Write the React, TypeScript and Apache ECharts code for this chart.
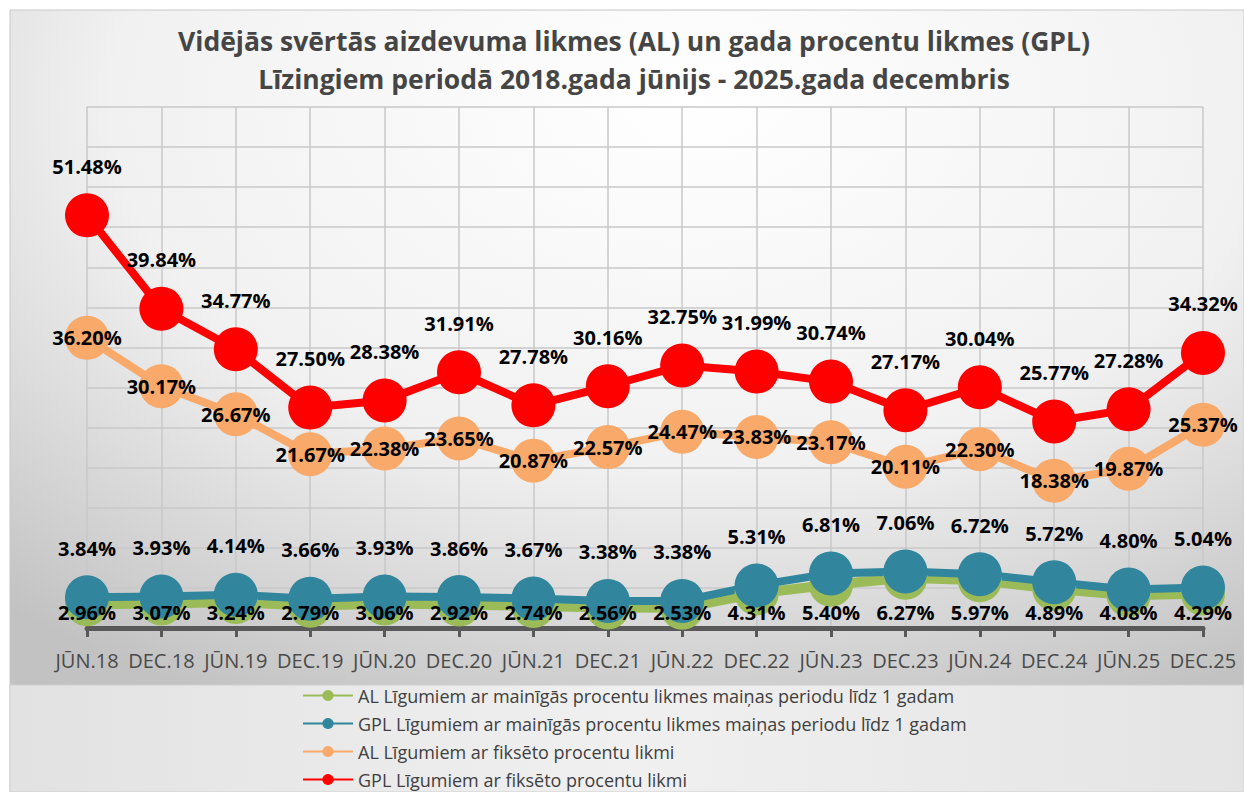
import React, { useEffect, useRef } from "react";
import * as echarts from "echarts";

const categories = [
  "JŪN.18", "DEC.18", "JŪN.19", "DEC.19", "JŪN.20", "DEC.20", "JŪN.21", "DEC.21",
  "JŪN.22", "DEC.22", "JŪN.23", "DEC.23", "JŪN.24", "DEC.24", "JŪN.25", "DEC.25",
];

const alVariable = [2.96, 3.07, 3.24, 2.79, 3.06, 2.92, 2.74, 2.56, 2.53, 4.31, 5.4, 6.27, 5.97, 4.89, 4.08, 4.29];
const gplVariable = [3.84, 3.93, 4.14, 3.66, 3.93, 3.86, 3.67, 3.38, 3.38, 5.31, 6.81, 7.06, 6.72, 5.72, 4.8, 5.04];
const alFixed = [36.2, 30.17, 26.67, 21.67, 22.38, 23.65, 20.87, 22.57, 24.47, 23.83, 23.17, 20.11, 22.3, 18.38, 19.87, 25.37];
const gplFixed = [51.48, 39.84, 34.77, 27.5, 28.38, 31.91, 27.78, 30.16, 32.75, 31.99, 30.74, 27.17, 30.04, 25.77, 27.28, 34.32];

const seriesNames = [
  "AL Līgumiem ar mainīgās procentu likmes maiņas periodu līdz 1 gadam",
  "GPL Līgumiem ar mainīgās procentu likmes maiņas periodu līdz 1 gadam",
  "AL Līgumiem ar fiksēto procentu likmi",
  "GPL Līgumiem ar fiksēto procentu likmi",
];

const titleLines = [
  "Vidējās svērtās aizdevuma likmes (AL) un gada procentu likmes (GPL)",
  "Līzingiem periodā 2018.gada jūnijs - 2025.gada decembris",
];

const Y_MAX = 65;
const Y_INTERVAL = 5;

const W = 1244;
const H = 792;
const GRID_TOP = 107;
const GRID_BOTTOM_Y = 628;
const FONT = "'Open Sans', 'Noto Sans', sans-serif";

export default function App() {
  const ref = useRef<HTMLDivElement>(null);

  useEffect(() => {
    if (!ref.current) return;
    const chart = echarts.init(ref.current, null, { renderer: "svg" });
    const pxPerUnit = (GRID_BOTTOM_Y - GRID_TOP) / Y_MAX;

    const fmt = (p: any) => `${Number(p.value).toFixed(2)}%`;
    const labelBase = {
      show: true,
      formatter: fmt,
      fontFamily: FONT,
      fontWeight: "bold" as const,
      fontSize: 20,
      color: "#000000",
    };

    const mk = (name: string, data: any[], color: string, width: number, label: any) => ({
      name,
      type: "line",
      data,
      symbol: "circle",
      symbolSize: 44,
      lineStyle: { color, width },
      itemStyle: { color },
      label: { ...labelBase, ...label },
      emphasis: { disabled: true },
    });

    const option: any = {
      animation: false,
      backgroundColor: "#ffffff",
      textStyle: { fontFamily: FONT },
      graphic: {
        elements: [
          {
            type: "rect",
            z: -20,
            shape: { x: 10, y: 10, width: W - 10, height: H - 10 },
            style: {
              fill: {
                type: "radial",
                x: 0.55,
                y: 0.12,
                r: 0.85,
                colorStops: [
                  { offset: 0, color: "#ffffff" },
                  { offset: 0.55, color: "#f1f1f1" },
                  { offset: 1, color: "#c2c2c2" },
                ],
              },
              stroke: "#c8c8c8",
              lineWidth: 1,
            },
          },
          {
            type: "rect",
            z: -19,
            shape: { x: 10, y: 685, width: W - 10, height: H - 685 },
            style: {
              fill: {
                type: "linear",
                x: 0,
                y: 0,
                x2: 1,
                y2: 0,
                colorStops: [
                  { offset: 0, color: "#e2e2e2" },
                  { offset: 0.5, color: "#f0f0f0" },
                  { offset: 1, color: "#e4e4e4" },
                ],
              },
              stroke: "#cfcfcf",
              lineWidth: 1,
            },
          },
        ],
      },
      title: {
        text: titleLines.join("\n"),
        left: 629,
        top: 17,
        textAlign: "center",
        textStyle: {
          fontFamily: FONT,
          fontWeight: "bold",
          fontSize: 26.5,
          lineHeight: 38,
          color: "#454545",
        },
      },
      legend: {
        orient: "vertical",
        left: 297,
        top: 680,
        height: 130,
        itemWidth: 50,
        itemHeight: 14,
        itemGap: 7,
        data: seriesNames,
        textStyle: { fontFamily: FONT, fontSize: 18, fontWeight: "normal", color: "#404040", lineHeight: 21 },
      },
      grid: {
        left: 87,
        right: W - 1203,
        top: GRID_TOP,
        bottom: H - GRID_BOTTOM_Y,
        containLabel: false,
      },
      xAxis: {
        type: "category",
        boundaryGap: false,
        data: categories,
        axisLine: { lineStyle: { color: "#595959", width: 5 } },
        axisTick: { show: true, length: 9, lineStyle: { color: "#595959", width: 3 } },
        axisLabel: {
          color: "#4a4a4a",
          fontSize: 20,
          fontWeight: "normal",
          margin: 22,
          interval: 0,
          fontFamily: FONT,
        },
        splitLine: { show: true, lineStyle: { color: "#c8c8c8", width: 1.5 } },
      },
      yAxis: {
        type: "value",
        min: 0,
        max: Y_MAX,
        interval: Y_INTERVAL,
        axisLabel: { show: false },
        axisLine: { show: false },
        axisTick: { show: false },
        splitLine: { show: true, lineStyle: { color: "#c8c8c8", width: 1.5 } },
      },
      series: [
        mk(
          seriesNames[0],
          alVariable.map((v) => ({ value: v, label: { offset: [0, v * pxPerUnit - 16] } })),
          "#9bbb59",
          10,
          { position: "inside" }
        ),
        mk(seriesNames[1], gplVariable, "#31859c", 8, { position: "top", distance: 17 }),
        mk(seriesNames[2], alFixed, "#f9a96a", 8, { position: "inside" }),
        mk(seriesNames[3], gplFixed, "#ff0000", 8, { position: "top", distance: 17 }),
      ],
    };

    chart.setOption(option);
    return () => chart.dispose();
  }, []);

  return (
    <div
      ref={ref}
      style={{ position: "fixed", left: 0, top: 0, width: W, height: H, background: "#ffffff" }}
    />
  );
}
